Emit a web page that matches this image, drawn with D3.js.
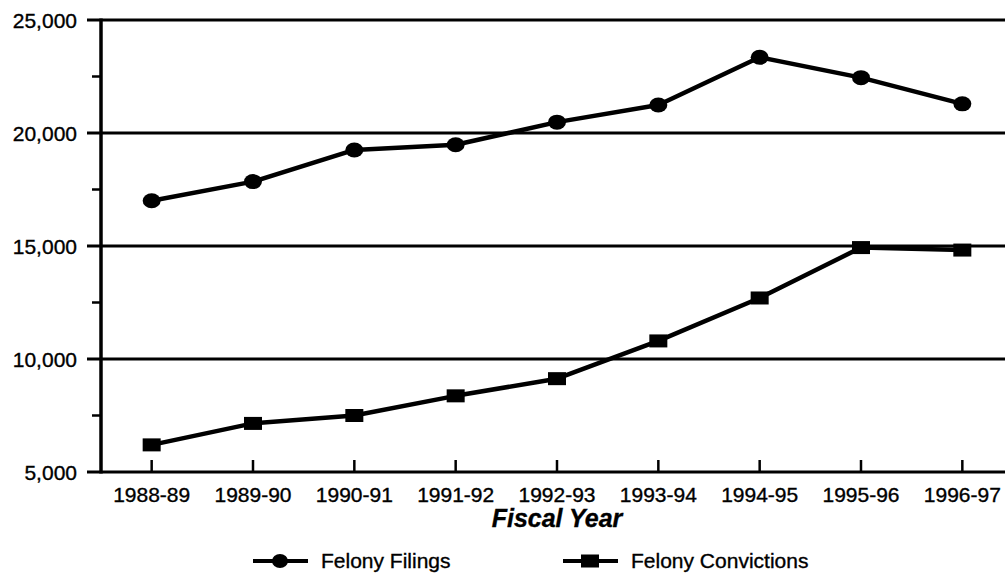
<!DOCTYPE html>
<html>
   <head>
      <script type = "text/javascript" src = "https://d3js.org/d3.v7.min.js"></script>
      <style>
         body { margin: 0; background: white; }
         text { font-family: "Liberation Sans", Arial, sans-serif; fill: black; stroke: black; stroke-width: 0.35px; }
         .tick-label { font-size: 21px; }
         .axis-title { font-size: 25px; font-weight: bold; font-style: italic; }
         .legend-label { font-size: 21px; }
      </style>
   </head>

   <body>
      <script>
        // values
        var years = ["1988-89", "1989-90", "1990-91", "1991-92", "1992-93", "1993-94", "1994-95", "1995-96", "1996-97"];
        var felonyFilings = [17000, 17850, 19250, 19480, 20480, 21240, 23350, 22450, 21290];
        var felonyConvictions = [6200, 7150, 7500, 8370, 9130, 10800, 12700, 14930, 14820];
        var yTicks = [5000, 10000, 15000, 20000, 25000];
        var seriesNames = ["Felony Filings", "Felony Convictions"];

        var svgWidth = 1005, svgHeight = 577;
        var plot = {left: 101, right: 1013, top: 20, bottom: 472};

        var svg = d3.select("body")
            .append("svg")
            .attr("width", svgWidth)
            .attr("height", svgHeight);

        var x = d3.scalePoint()
            .domain(years)
            .range([plot.left, plot.right])
            .padding(0.5);

        var y = d3.scaleLinear()
            .domain([5000, 25000])
            .range([plot.bottom, plot.top]);

        // horizontal gridlines with the major ticks poking out left
        svg.append("g")
            .selectAll("line")
            .data(yTicks)
            .enter()
            .append("line")
            .attr("x1", 87)
            .attr("x2", svgWidth)
            .attr("y1", function(d){ return y(d); })
            .attr("y2", function(d){ return y(d); })
            .style("stroke", "black")
            .style("stroke-width", 3);

        // minor ticks halfway between
        var minor = d3.range(7500, 25000, 5000);
        svg.append("g")
            .selectAll("line")
            .data(minor)
            .enter()
            .append("line")
            .attr("x1", 92)
            .attr("x2", plot.left)
            .attr("y1", function(d){ return y(d); })
            .attr("y2", function(d){ return y(d); })
            .style("stroke", "black")
            .style("stroke-width", 2.5);

        // y axis line
        svg.append("line")
            .attr("x1", plot.left).attr("x2", plot.left)
            .attr("y1", y(25000) - 1.5).attr("y2", y(5000) + 1.5)
            .style("stroke", "black")
            .style("stroke-width", 3.5);

        svg.append("g")
            .selectAll("text")
            .data(yTicks)
            .enter()
            .append("text")
            .attr("class", "tick-label")
            .attr("x", 77)
            .attr("y", function(d){ return y(d); })
            .attr("dy", "0.36em")
            .attr("text-anchor", "end")
            .text(d3.format(","));

        // x ticks point up from the base line
        svg.append("g")
            .selectAll("line")
            .data(years)
            .enter()
            .append("line")
            .attr("x1", function(d){ return x(d); })
            .attr("x2", function(d){ return x(d); })
            .attr("y1", plot.bottom)
            .attr("y2", plot.bottom - 12)
            .style("stroke", "black")
            .style("stroke-width", 2.5);

        svg.append("g")
            .selectAll("text")
            .data(years)
            .enter()
            .append("text")
            .attr("class", "tick-label")
            .attr("x", function(d){ return x(d); })
            .attr("y", 502)
            .attr("text-anchor", "middle")
            .text(function(d){ return d; });

        svg.append("text")
            .attr("class", "axis-title")
            .attr("x", 557)
            .attr("y", 527)
            .attr("text-anchor", "middle")
            .text("Fiscal Year");

        var line = d3.line()
            .x(function(d, i){ return x(years[i]); })
            .y(function(d){ return y(d); });

        function drawLine(values){
            svg.append("path")
                .datum(values)
                .attr("d", line)
                .style("fill", "none")
                .style("stroke", "black")
                .style("stroke-width", 4.5)
                .style("stroke-linejoin", "round");
        }

        drawLine(felonyFilings);
        drawLine(felonyConvictions);

        svg.append("g")
            .selectAll("ellipse")
            .data(felonyFilings)
            .enter()
            .append("ellipse")
            .attr("cx", function(d, i){ return x(years[i]); })
            .attr("cy", function(d){ return y(d); })
            .attr("rx", 9)
            .attr("ry", 7.5)
            .style("fill", "black");

        svg.append("g")
            .selectAll("rect")
            .data(felonyConvictions)
            .enter()
            .append("rect")
            .attr("x", function(d, i){ return x(years[i]) - 9; })
            .attr("y", function(d){ return y(d) - 6.5; })
            .attr("width", 18)
            .attr("height", 13)
            .style("fill", "black");

        // legend
        var legend = svg.append("g");
        var legendX = [253, 563];

        legendX.forEach(function(lx, i){
            var ly = 561;
            legend.append("line")
                .attr("x1", lx).attr("x2", lx + 55)
                .attr("y1", ly).attr("y2", ly)
                .style("stroke", "black")
                .style("stroke-width", 4);
            if (i === 0) {
                legend.append("ellipse")
                    .attr("cx", lx + 27).attr("cy", ly)
                    .attr("rx", 8).attr("ry", 7)
                    .style("fill", "black");
            } else {
                legend.append("rect")
                    .attr("x", lx + 18).attr("y", ly - 6.5)
                    .attr("width", 18).attr("height", 13)
                    .style("fill", "black");
            }
            legend.append("text")
                .attr("class", "legend-label")
                .attr("x", lx + 68)
                .attr("y", ly + 7)
                .text(seriesNames[i]);
        });
      </script>
   </body>
</html>
